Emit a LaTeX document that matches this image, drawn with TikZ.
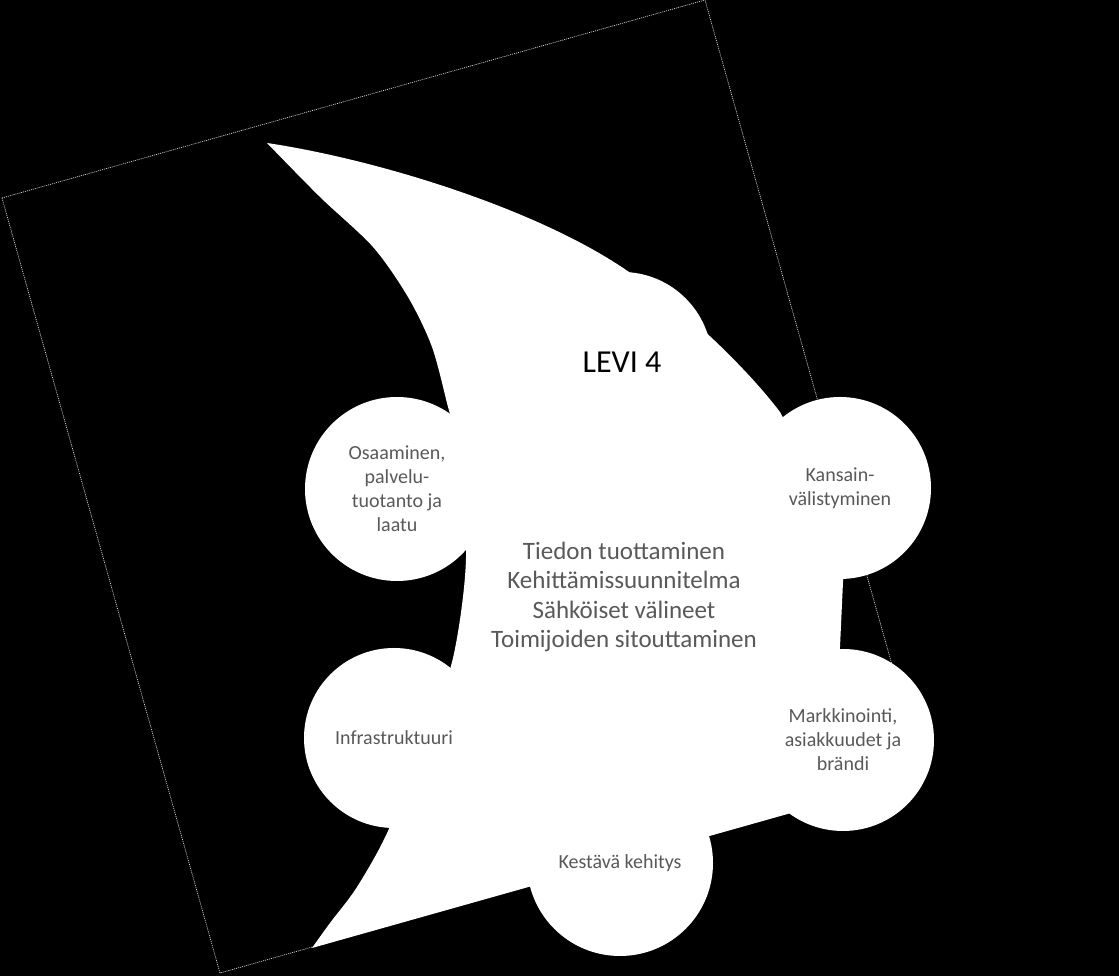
\documentclass[tikz,border=0pt]{standalone}
\usepackage{fontspec}
\setmainfont{Carlito}
\usepackage{tikz}
\usepackage{xcolor}
\usetikzlibrary{calc}
\colorlet{bg_dark}{black}
\colorlet{frame_line}{white!85!black}
\colorlet{label_text}{black!65}
\tikzset{
    bubble/.style={circle,fill=white,inner sep=0pt,minimum size=180pt,text=label_text,font=\fontsize{20}{24}\selectfont,align=center},
    frame/.style={frame_line,line width=0.7pt,dash pattern=on 1pt off 1pt},
}

\begin{document}
\begin{tikzpicture}[x=1pt,y=1pt]
  \fill[bg_dark] (0,0) rectangle (1119,976);
  \useasboundingbox (0,0) rectangle (1119,976);
  \coordinate (A) at (2,778);
  \coordinate (B) at (705,976);
  \coordinate (C) at (923,201);
  \coordinate (D) at (220,3);
  % Draw rotated frame
  \draw[frame] (A) -- (B) -- (C) -- (D) -- cycle;
  % Draw flame shape (bottom edge lies on the frame)
  \coordinate (tip) at (267,833);
  \coordinate (tail) at (312,28);
  \fill[white] (tip) .. controls (380,816) and (540,766) .. (629,704)
    .. controls (680,672) and (745,610) .. (780,564)
    -- (800,526) -- (845,416) -- (843,394) -- (840,329) -- (835,276) -- (800,165.5) -- (tail)
    -- plot[smooth] coordinates {(312,28) (330,53) (357,89) (388,145) (425,240) (453,318) (466,418) (458,530) (448,569) (432,629) (408,679) (373,729) (320,779) (267,833)}
    -- cycle;
  % Draw circles round the flame
  \node[bubble,text=black,font=\fontsize{32}{38}\selectfont] (levi) at (622,614) {LEVI 4};
  \node[bubble,minimum size=184pt] (osaa) at (397,487) {Osaaminen,\\palvelu-\\tuotanto ja\\laatu};
  \node[bubble,minimum size=182pt] (kans) at (840,488) {Kansain-\\välistyminen};
  \node[bubble,minimum size=182pt] (mark) at (843,236) {Markkinointi,\\asiakkuudet ja\\brändi};
  \node[bubble,minimum size=186pt] (kest) at (620,113) {Kestävä kehitys};
  \node[bubble] (infra) at (394,238) {Infrastruktuuri};
  % Centre text
  \node[text=label_text,font=\fontsize{25}{29.5}\selectfont,align=center] (core) at (624,379) {Tiedon tuottaminen\\Kehittämissuunnitelma\\Sähköiset välineet\\Toimijoiden sitouttaminen};
\end{tikzpicture}
\end{document}
